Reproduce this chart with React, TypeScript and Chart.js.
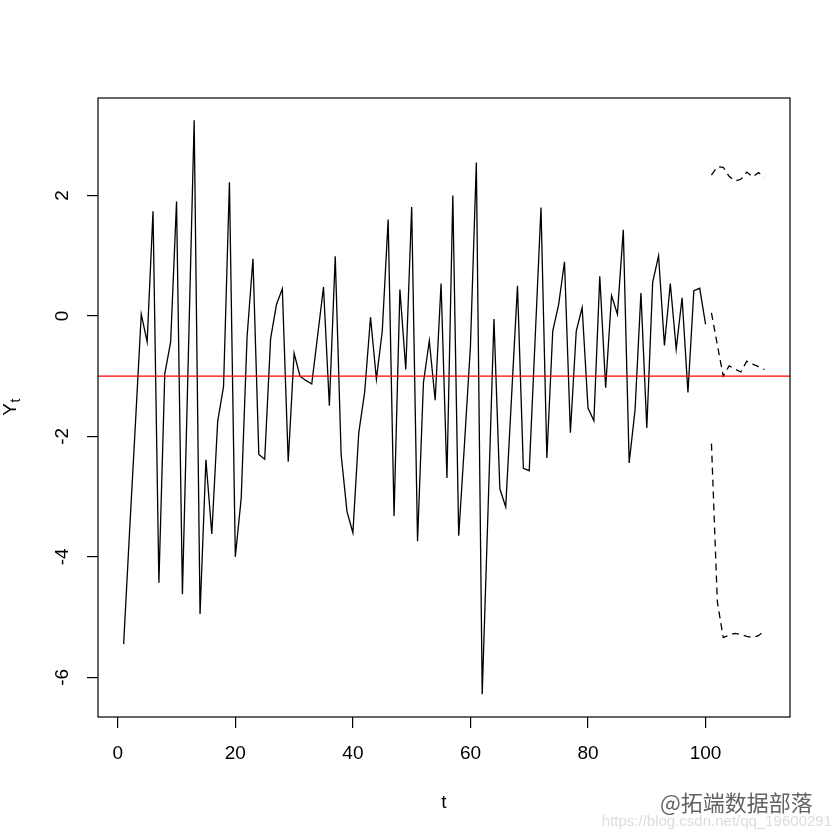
import React, { useEffect, useRef } from "react";
import { Chart, registerables } from "chart.js";

Chart.register(...registerables);

// Observed series Y_t for t = 1..100
const seriesValues = [
  -5.45, -3.6, -1.8, 0.03, -0.43, 1.74, -4.43, -0.96, -0.43, 1.9,
  -4.62, -0.7, 3.25, -4.95, -2.39, -3.62, -1.75, -1.17, 2.22, -4.0,
  -3.03, -0.35, 0.95, -2.3, -2.38, -0.38, 0.19, 0.45, -2.42, -0.62,
  -1.0, -1.07, -1.13, -0.33, 0.48, -1.49, 0.99, -2.3, -3.25, -3.6,
  -1.94, -1.27, -0.02, -1.05, -0.25, 1.6, -3.32, 0.44, -0.89, 1.81,
  -3.74, -1.11, -0.41, -1.4, 0.54, -2.69, 2.0, -3.65, -2.1, -0.5,
  2.55, -6.28, -3.2, -0.05, -2.87, -3.17, -1.33, 0.5, -2.53, -2.57,
  -0.39, 1.8, -2.36, -0.25, 0.19, 0.9, -1.94, -0.25, 0.14, -1.53,
  -1.74, 0.66, -1.19, 0.34, 0.03, 1.43, -2.44, -1.56, 0.38, -1.86,
  0.56, 1.0, -0.49, 0.54, -0.55, 0.3, -1.27, 0.42, 0.46, -0.14,
];

// Forecast horizon
const forecastT = [101, 102, 103, 104, 105, 106, 107, 108, 109, 110];
const forecastMean = [0.05, -0.48, -1.0, -0.83, -0.88, -0.93, -0.75, -0.8, -0.84, -0.89];
const forecastUpper = [2.34, 2.48, 2.47, 2.32, 2.24, 2.27, 2.39, 2.31, 2.38, 2.31];
const forecastLower = [-2.12, -4.75, -5.34, -5.3, -5.27, -5.29, -5.32, -5.34, -5.31, -5.23];

// Horizontal reference level
const meanLevel = -1;

// Axes
const xTickValues = [0, 20, 40, 60, 80, 100];
const yTickValues = [-6, -4, -2, 0, 2];
const xLimits = [-3.36, 114.36];
const yLimits = [-6.66, 3.62];

const FAMILY = "'Liberation Sans', Arial, Helvetica, sans-serif";

export default function App() {
  const ref = useRef<HTMLCanvasElement>(null);

  useEffect(() => {
    document.body.style.margin = "0";
    const canvas = ref.current;
    if (!canvas) return;

    const font = { family: FAMILY, size: 19 };

    const decorPlugin = {
      id: "rDecor",
      afterDraw(chart: any) {
        const { ctx, chartArea: a } = chart;
        ctx.save();
        // plot box
        ctx.strokeStyle = "#000";
        ctx.lineWidth = 1.2;
        ctx.strokeRect(a.left, a.top, a.right - a.left, a.bottom - a.top);

        // y-axis title: Y with subscript t
        const cy = (a.top + a.bottom) / 2;
        ctx.save();
        ctx.translate(11, cy);
        ctx.rotate(-Math.PI / 2);
        ctx.fillStyle = "#000";
        ctx.textBaseline = "middle";
        ctx.textAlign = "left";
        ctx.font = `19px ${FAMILY}`;
        const wY = ctx.measureText("Y").width;
        ctx.font = `14px ${FAMILY}`;
        const wt = ctx.measureText("t").width;
        const start = -(wY + wt) / 2;
        ctx.font = `19px ${FAMILY}`;
        ctx.fillText("Y", start, 0);
        ctx.font = `14px ${FAMILY}`;
        ctx.fillText("t", start + wY + 0.5, 5);
        ctx.restore();

        // watermark
        ctx.textBaseline = "middle";
        ctx.textAlign = "right";
        ctx.font = `15px ${FAMILY}`;
        ctx.fillStyle = "#dcdcdc";
        ctx.fillText("https://blog.csdn.net/qq_19600291", 832, 822);
        ctx.textAlign = "left";
        ctx.font = "22px 'Noto Sans CJK SC', sans-serif";
        ctx.fillStyle = "rgba(70,70,70,0.85)";
        ctx.fillText("@拓端数据部落", 660, 803);
        ctx.restore();
      },
    };

    const chart = new Chart(canvas, {
      type: "line",
      data: {
        datasets: [
          {
            label: "level",
            data: [
              { x: xLimits[0], y: meanLevel },
              { x: xLimits[1], y: meanLevel },
            ],
            borderColor: "#ff0000",
            borderWidth: 1.3,
            pointRadius: 0,
          },
          {
            label: "Y",
            data: seriesValues.map((v, i) => ({ x: i + 1, y: v })),
            borderColor: "#000",
            borderWidth: 1.3,
            pointRadius: 0,
            tension: 0,
          },
          {
            label: "forecast",
            data: forecastT.map((t, i) => ({ x: t, y: forecastMean[i] })),
            borderColor: "#000",
            borderWidth: 1.3,
            borderDash: [7, 5],
            pointRadius: 0,
          },
          {
            label: "upper",
            data: forecastT.map((t, i) => ({ x: t, y: forecastUpper[i] })),
            borderColor: "#000",
            borderWidth: 1.3,
            borderDash: [7, 5],
            pointRadius: 0,
          },
          {
            label: "lower",
            data: forecastT.map((t, i) => ({ x: t, y: forecastLower[i] })),
            borderColor: "#000",
            borderWidth: 1.3,
            borderDash: [7, 5],
            pointRadius: 0,
          },
        ],
      },
      options: {
        animation: false,
        responsive: false,
        devicePixelRatio: 1,
        layout: { padding: { top: 98, right: 50, left: 0, bottom: 0 } },
        plugins: {
          legend: { display: false },
          tooltip: { enabled: false },
        },
        scales: {
          x: {
            type: "linear",
            min: xLimits[0],
            max: xLimits[1],
            afterFit(s: any) {
              s.height = 123;
            },
            afterBuildTicks(s: any) {
              s.ticks = xTickValues.map((v) => ({ value: v }));
            },
            grid: {
              drawOnChartArea: false,
              drawTicks: true,
              tickLength: 11,
              color: "#000",
              lineWidth: 1.2,
            },
            border: { display: false },
            ticks: {
              font,
              color: "#000",
              padding: 14,
              maxRotation: 0,
              minRotation: 0,
              autoSkip: false,
            },
            title: {
              display: true,
              text: "t",
              font,
              color: "#000",
              padding: { top: 0, bottom: 26 },
            },
          },
          y: {
            type: "linear",
            min: yLimits[0],
            max: yLimits[1],
            afterFit(s: any) {
              s.width = 98;
            },
            afterBuildTicks(s: any) {
              s.ticks = yTickValues.map((v) => ({ value: v }));
            },
            grid: {
              drawOnChartArea: false,
              drawTicks: true,
              tickLength: 11,
              color: "#000",
              lineWidth: 1.2,
            },
            border: { display: false },
            ticks: {
              font,
              color: "#000",
              minRotation: 90,
              maxRotation: 90,
              crossAlign: "center",
              padding: 16,
              autoSkip: false,
            },
          },
        },
      },
      plugins: [decorPlugin],
    } as any);

    return () => chart.destroy();
  }, []);

  return <canvas ref={ref} width={840} height={840} style={{ display: "block" }} />;
}
